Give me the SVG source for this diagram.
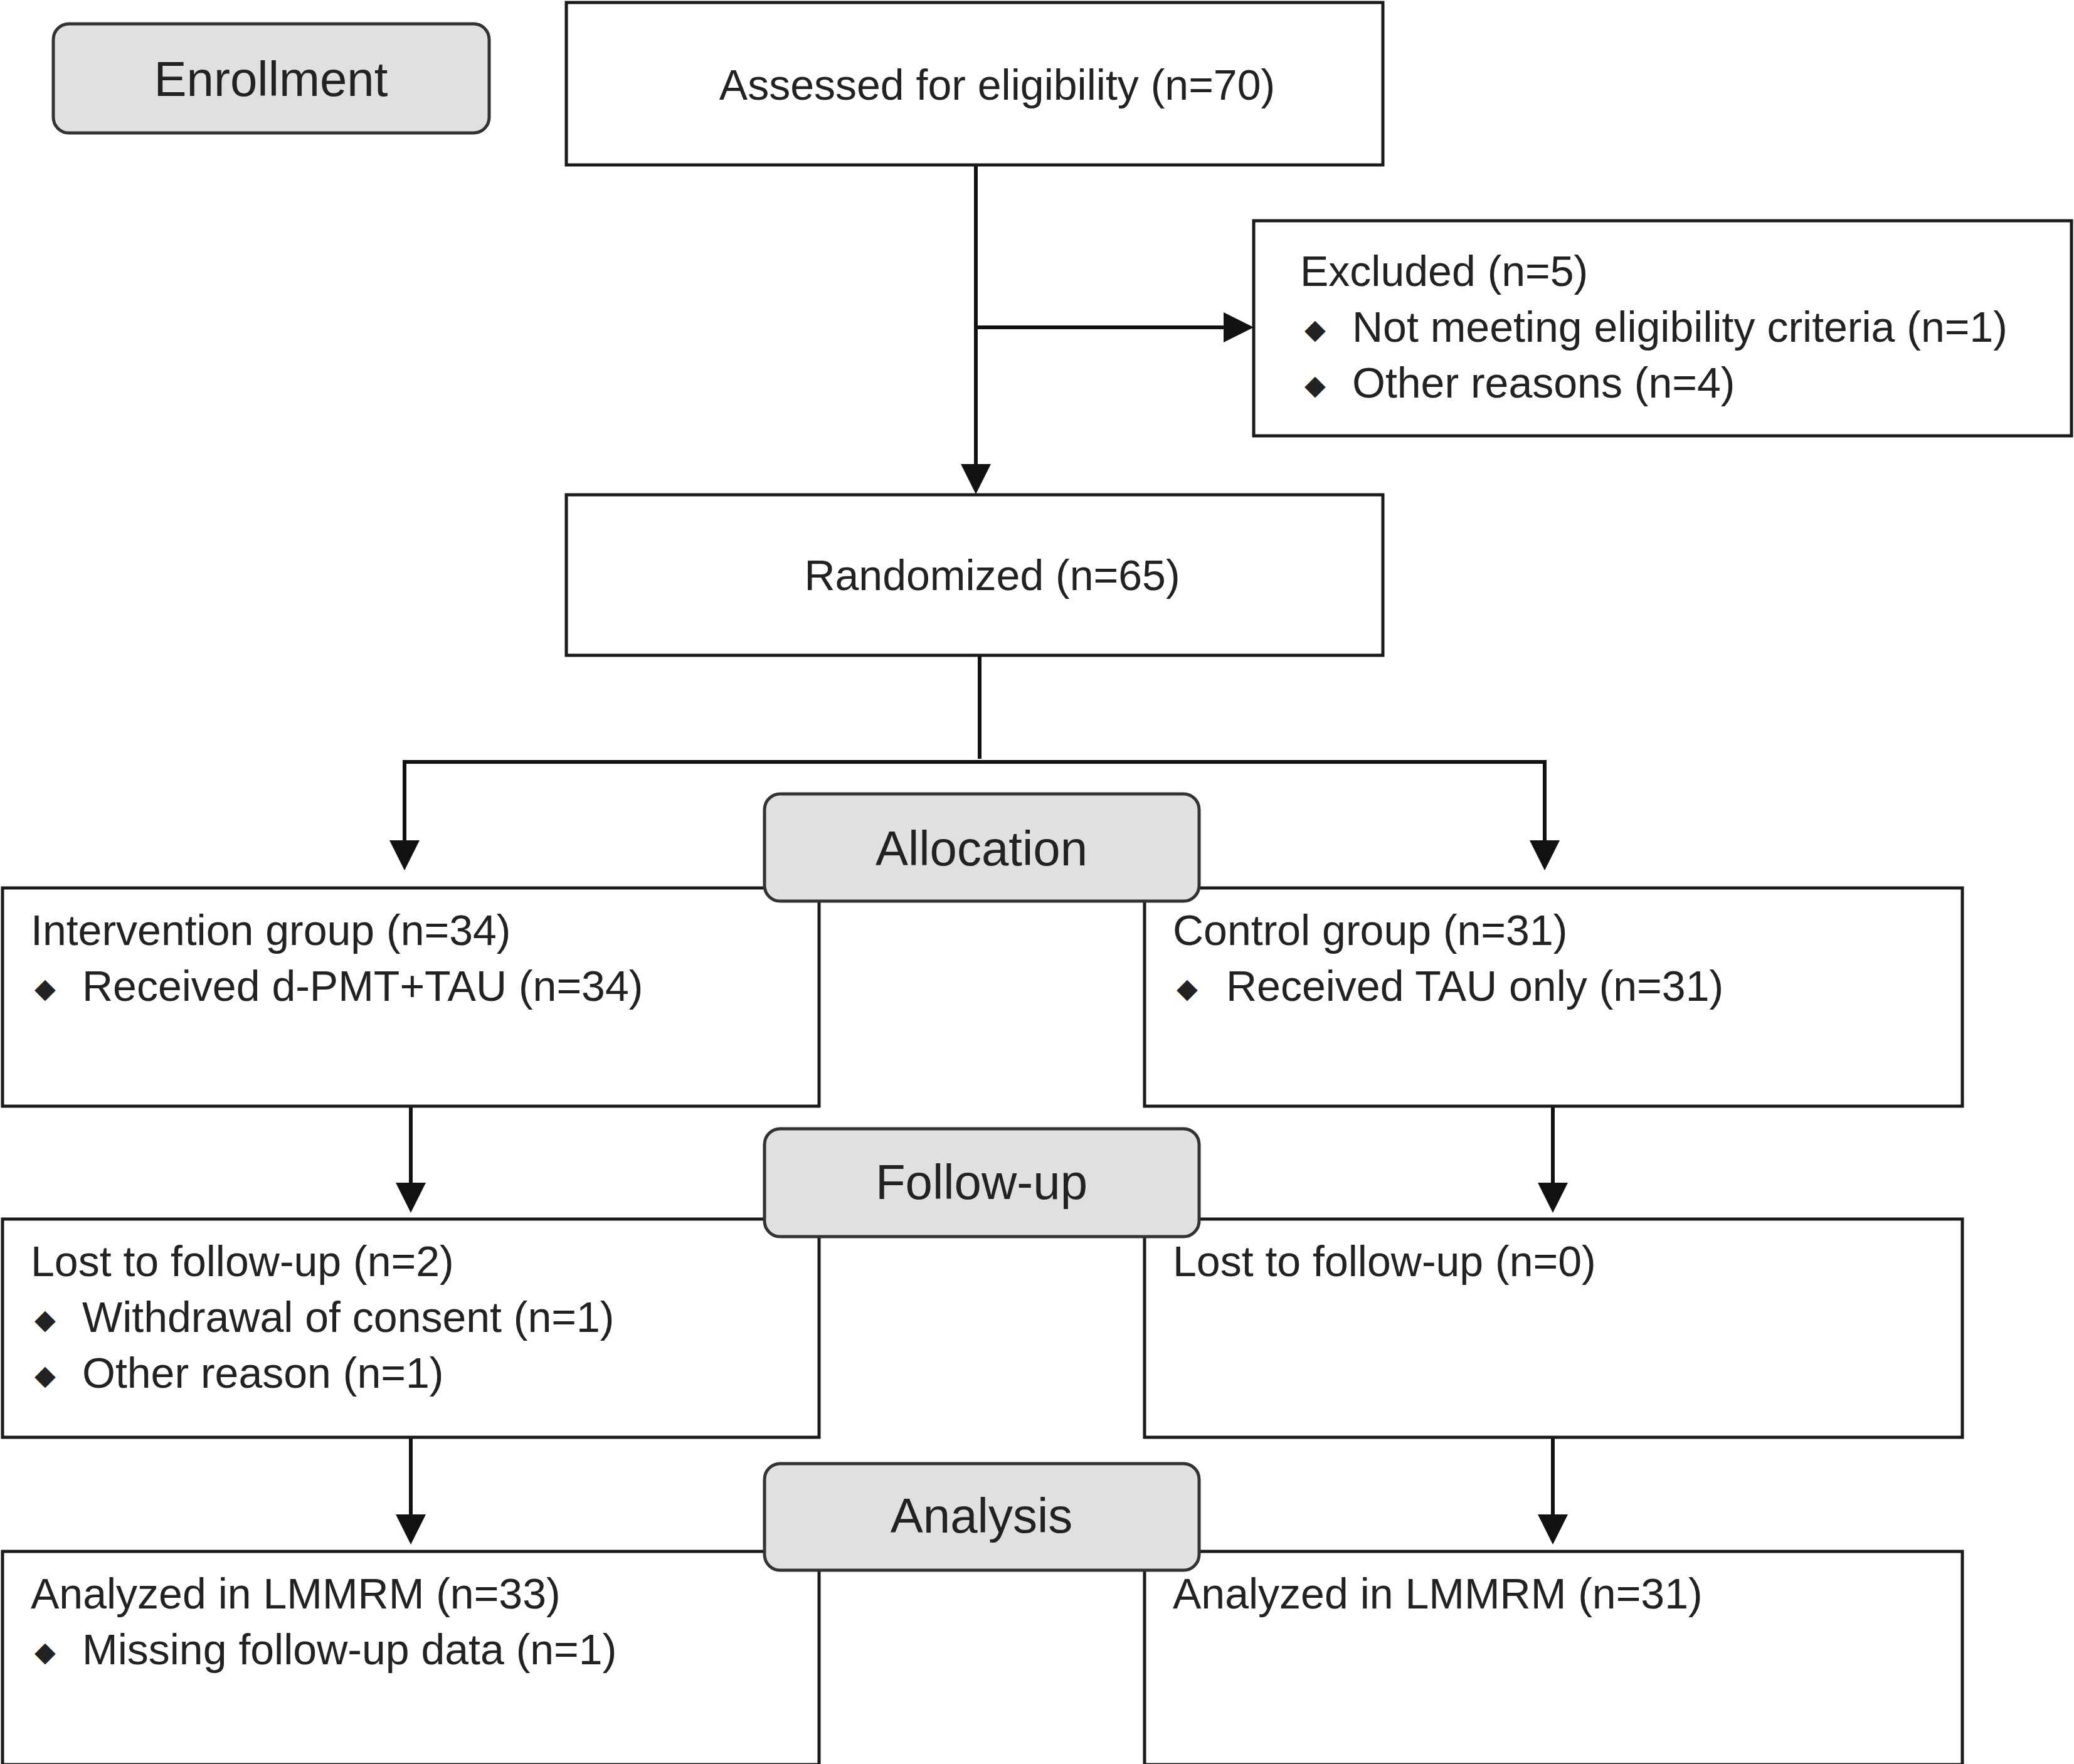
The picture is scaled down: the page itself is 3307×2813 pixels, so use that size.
<svg xmlns="http://www.w3.org/2000/svg" width="3307" height="2813" viewBox="0 0 3307 2813">
<style>
.b{fill:#fff;stroke:#1a1a1a;stroke-width:5}
.h{fill:#e0e0e0;stroke:#333;stroke-width:5}
.t{font-family:"Liberation Sans",Arial,sans-serif;font-size:68px;fill:#222}
.ht{font-family:"Liberation Sans",Arial,sans-serif;font-size:78px;fill:#222;text-anchor:middle}
.d{font-family:"DejaVu Sans",sans-serif;font-size:44px;fill:#222}
.c{stroke:#111;stroke-width:6;fill:none}
</style>
<defs><marker id="a" markerWidth="8" markerHeight="8" refX="7" refY="4" orient="auto" markerUnits="strokeWidth"><path d="M0,0L8,4L0,8z" fill="#111"/></marker></defs>
<rect width="3307" height="2813" fill="#fff"/>
<g id="connectors">
<path class="c" d="M1556,263V782" marker-end="url(#a)"/>
<path class="c" d="M1556,522H1993" marker-end="url(#a)"/>
<path class="c" d="M1562,1045V1210"/>
<path class="c" d="M645,1215H2463"/>
<path class="c" d="M645,1212V1382" marker-end="url(#a)"/>
<path class="c" d="M2463,1212V1382" marker-end="url(#a)"/>
<path class="c" d="M655,1764V1928" marker-end="url(#a)"/>
<path class="c" d="M2476,1764V1928" marker-end="url(#a)"/>
<path class="c" d="M655,2292V2457" marker-end="url(#a)"/>
<path class="c" d="M2476,2292V2457" marker-end="url(#a)"/>
</g>
<g id="enrollment"><rect class="h" x="85" y="38" width="695" height="174" rx="25"/><text class="ht" x="432" y="153">Enrollment</text></g>
<g id="assessed"><rect class="b" x="903" y="4" width="1302" height="259"/><text class="t" x="1590" y="159" text-anchor="middle">Assessed for eligibility (n=70)</text></g>
<g id="excluded"><rect class="b" x="1999" y="352" width="1304" height="343"/>
<text class="t" x="2073" y="456">Excluded (n=5)</text>
<text class="d" x="2080" y="540">◆</text><text class="t" x="2156" y="545">Not meeting eligibility criteria (n=1)</text>
<text class="d" x="2080" y="629">◆</text><text class="t" x="2156" y="634">Other reasons (n=4)</text></g>
<g id="randomized"><rect class="b" x="903" y="789" width="1302" height="256"/><text class="t" x="1582" y="941" text-anchor="middle">Randomized (n=65)</text></g>
<g id="intervention"><rect class="b" x="4" y="1416" width="1302" height="348"/>
<text class="t" x="49" y="1507">Intervention group (n=34)</text>
<text class="d" x="55" y="1591">◆</text><text class="t" x="131" y="1596">Received d-PMT+TAU (n=34)</text></g>
<g id="control"><rect class="b" x="1825" y="1416" width="1304" height="348"/>
<text class="t" x="1870" y="1507">Control group (n=31)</text>
<text class="d" x="1876" y="1591">◆</text><text class="t" x="1955" y="1596">Received TAU only (n=31)</text></g>
<g id="allocation"><rect class="h" x="1219" y="1266" width="693" height="171" rx="25"/><text class="ht" x="1565" y="1380">Allocation</text></g>
<g id="lost-int"><rect class="b" x="4" y="1944" width="1302" height="348"/>
<text class="t" x="49" y="2035">Lost to follow-up (n=2)</text>
<text class="d" x="55" y="2119">◆</text><text class="t" x="131" y="2124">Withdrawal of consent (n=1)</text>
<text class="d" x="55" y="2208">◆</text><text class="t" x="131" y="2213">Other reason (n=1)</text></g>
<g id="lost-ctl"><rect class="b" x="1825" y="1944" width="1304" height="348"/>
<text class="t" x="1870" y="2035">Lost to follow-up (n=0)</text></g>
<g id="followup"><rect class="h" x="1219" y="1800" width="693" height="172" rx="25"/><text class="ht" x="1565" y="1912">Follow-up</text></g>
<g id="analyzed-int"><rect class="b" x="4" y="2474" width="1302" height="340"/>
<text class="t" x="49" y="2565">Analyzed in LMMRM (n=33)</text>
<text class="d" x="55" y="2649">◆</text><text class="t" x="131" y="2654">Missing follow-up data (n=1)</text></g>
<g id="analyzed-ctl"><rect class="b" x="1825" y="2474" width="1304" height="340"/>
<text class="t" x="1870" y="2565">Analyzed in LMMRM (n=31)</text></g>
<g id="analysis"><rect class="h" x="1219" y="2334" width="693" height="170" rx="25"/><text class="ht" x="1565" y="2444">Analysis</text></g>
</svg>
